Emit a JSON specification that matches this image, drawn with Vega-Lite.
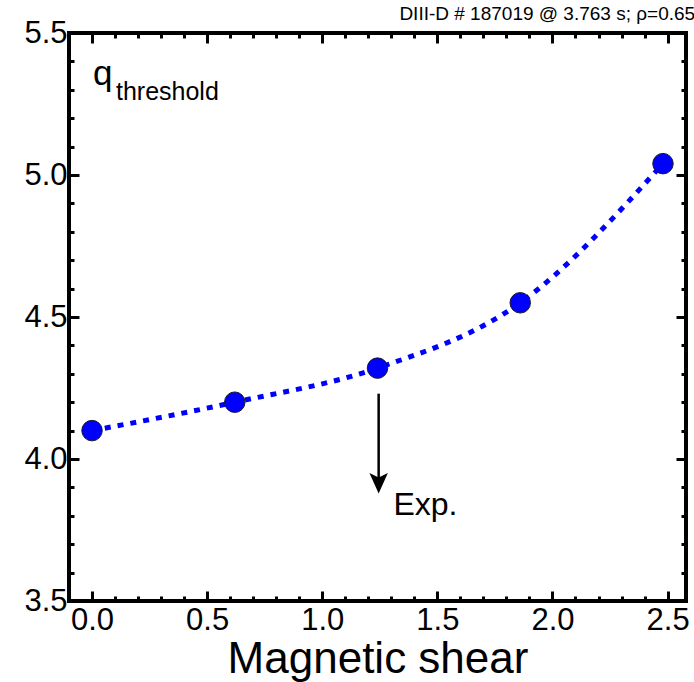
{
  "$schema": "https://vega.github.io/schema/vega-lite/v6.json",
  "width": 617,
  "height": 568,
  "autosize": {"type": "none"},
  "padding": {"left": 69, "top": 33, "right": 8, "bottom": 81},
  "background": "white",
  "config": {
    "font": "Liberation Sans",
    "view": {"stroke": "black", "strokeWidth": 4},
    "axis": {
      "domain": false,
      "grid": false,
      "labelFont": "Liberation Sans",
      "labelFontSize": 31,
      "labelColor": "black",
      "labelOverlap": false,
      "labelFlush": false,
      "tickColor": "black",
      "tickWidth": 3,
      "titleFont": "Liberation Sans",
      "titleFontWeight": "normal",
      "titleColor": "black"
    }
  },
  "title": {
    "text": "DIII-D # 187019 @ 3.763 s; ρ=0.65",
    "anchor": "end",
    "orient": "top",
    "fontSize": 19,
    "fontWeight": "normal",
    "font": "Liberation Sans",
    "color": "black",
    "baseline": "alphabetic",
    "offset": 0,
    "dy": 22,
    "dx": 6
  },
  "datasets": {
    "curve": [
      {"shear": 0.0, "q": 4.10},
      {"shear": 0.62, "q": 4.20},
      {"shear": 1.24, "q": 4.32},
      {"shear": 1.86, "q": 4.55},
      {"shear": 2.48, "q": 5.04}
    ],
    "arrow": [
      {"shear": 1.245, "top": 4.23, "tip": 3.915}
    ],
    "notes": [
      {"shear": 0.004, "q": 5.317, "label": "q"},
      {"shear": 0.104, "q": 5.264, "label": "threshold"},
      {"shear": 1.309, "q": 3.803, "label": "Exp."}
    ]
  },
  "layer": [
    {
      "data": {"name": "curve"},
      "mark": {"type": "line", "color": "#0000ff", "strokeWidth": 5, "strokeDash": [6, 7], "interpolate": "monotone"},
      "encoding": {
        "x": {
          "field": "shear", "type": "quantitative",
          "scale": {"domain": [-0.1, 2.58], "nice": false, "zero": false},
          "axis": {
            "orient": "bottom",
            "values": [0, 0.1, 0.2, 0.3, 0.4, 0.5, 0.6, 0.7, 0.8, 0.9, 1.0, 1.1, 1.2, 1.3, 1.4, 1.5, 1.6, 1.7, 1.8, 1.9, 2.0, 2.1, 2.2, 2.3, 2.4, 2.5],
            "labelExpr": "abs(datum.value*2 - round(datum.value*2)) < 0.001 ? format(datum.value, '.1f') : ''",
            "tickSize": {"condition": {"test": "abs(datum.value*2 - round(datum.value*2)) < 0.001", "value": -10}, "value": -5},
            "labelPadding": 14,
            "title": "Magnetic shear",
            "titleFontSize": 44,
            "titlePadding": -3
          }
        },
        "y": {
          "field": "q", "type": "quantitative",
          "scale": {"domain": [3.5, 5.5], "nice": false, "zero": false},
          "axis": {
            "orient": "left",
            "values": [3.5, 3.6, 3.7, 3.8, 3.9, 4.0, 4.1, 4.2, 4.3, 4.4, 4.5, 4.6, 4.7, 4.8, 4.9, 5.0, 5.1, 5.2, 5.3, 5.4, 5.5],
            "labelExpr": "abs(datum.value*2 - round(datum.value*2)) < 0.001 ? format(datum.value, '.1f') : ''",
            "tickSize": {"condition": {"test": "abs(datum.value*2 - round(datum.value*2)) < 0.001", "value": -10}, "value": -5},
            "labelPadding": 12,
            "title": null
          }
        }
      }
    },
    {
      "data": {"name": "curve"},
      "mark": {"type": "point", "filled": true, "shape": "circle", "size": 420, "color": "#0000ff", "stroke": "#1a1a2a", "strokeWidth": 1, "opacity": 1},
      "encoding": {
        "x": {
          "field": "shear", "type": "quantitative",
          "axis": {
            "orient": "top",
            "values": [0, 0.1, 0.2, 0.3, 0.4, 0.5, 0.6, 0.7, 0.8, 0.9, 1.0, 1.1, 1.2, 1.3, 1.4, 1.5, 1.6, 1.7, 1.8, 1.9, 2.0, 2.1, 2.2, 2.3, 2.4, 2.5],
            "labels": false,
            "tickSize": {"condition": {"test": "abs(datum.value*2 - round(datum.value*2)) < 0.001", "value": -10}, "value": -5},
            "title": null
          }
        },
        "y": {
          "field": "q", "type": "quantitative",
          "axis": {
            "orient": "right",
            "values": [3.5, 3.6, 3.7, 3.8, 3.9, 4.0, 4.1, 4.2, 4.3, 4.4, 4.5, 4.6, 4.7, 4.8, 4.9, 5.0, 5.1, 5.2, 5.3, 5.4, 5.5],
            "labels": false,
            "tickSize": {"condition": {"test": "abs(datum.value*2 - round(datum.value*2)) < 0.001", "value": -10}, "value": -5},
            "title": null
          }
        }
      }
    },
    {
      "data": {"name": "arrow"},
      "mark": {"type": "rule", "color": "black", "strokeWidth": 2.5},
      "encoding": {
        "x": {"field": "shear", "type": "quantitative", "axis": null},
        "y": {"field": "top", "type": "quantitative", "axis": null},
        "y2": {"field": "tip"}
      }
    },
    {
      "data": {"name": "arrow"},
      "mark": {"type": "point", "filled": true, "color": "black", "opacity": 1, "size": 420, "shape": "M-0.9,-1 L0,1 L0.9,-1 L0,-0.55 Z"},
      "encoding": {
        "x": {"field": "shear", "type": "quantitative", "axis": null},
        "y": {"field": "tip", "type": "quantitative", "axis": null}
      }
    },
    {
      "data": {"name": "notes"},
      "transform": [{"filter": "datum.label === 'q'"}],
      "mark": {"type": "text", "align": "left", "baseline": "alphabetic", "fontSize": 35, "font": "Liberation Sans", "color": "black"},
      "encoding": {
        "x": {"field": "shear", "type": "quantitative", "axis": null},
        "y": {"field": "q", "type": "quantitative", "axis": null},
        "text": {"field": "label"}
      }
    },
    {
      "data": {"name": "notes"},
      "transform": [{"filter": "datum.label === 'threshold'"}],
      "mark": {"type": "text", "align": "left", "baseline": "alphabetic", "fontSize": 25, "font": "Liberation Sans", "color": "black"},
      "encoding": {
        "x": {"field": "shear", "type": "quantitative", "axis": null},
        "y": {"field": "q", "type": "quantitative", "axis": null},
        "text": {"field": "label"}
      }
    },
    {
      "data": {"name": "notes"},
      "transform": [{"filter": "datum.label === 'Exp.'"}],
      "mark": {"type": "text", "align": "left", "baseline": "alphabetic", "fontSize": 32, "font": "Liberation Sans", "color": "black"},
      "encoding": {
        "x": {"field": "shear", "type": "quantitative", "axis": null},
        "y": {"field": "q", "type": "quantitative", "axis": null},
        "text": {"field": "label"}
      }
    }
  ],
  "resolve": {"axis": {"x": "independent", "y": "independent"}}
}
